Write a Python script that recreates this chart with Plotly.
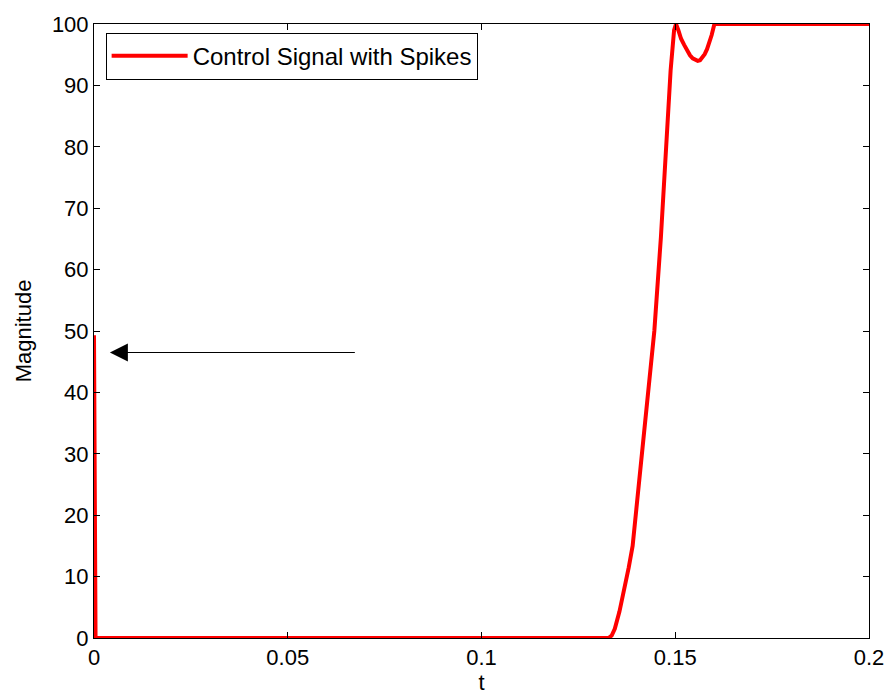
import plotly.graph_objects as go

# Data
t_vals = [0.0, 0.0004, 0.02, 0.06, 0.10, 0.1328, 0.1336, 0.1344, 0.1356, 0.1369, 0.1380,
          0.1390, 0.1403, 0.1416, 0.1429, 0.1446, 0.1463, 0.1475, 0.1488, 0.1497, 0.1502,
          0.1508, 0.1515, 0.1523, 0.1531, 0.1538, 0.1545, 0.1552, 0.1558, 0.1564, 0.1570,
          0.1576, 0.1582, 0.1588, 0.1594, 0.1601, 0.17, 0.18, 0.19, 0.2]
y_vals = [49.3, 0.0, 0.0, 0.0, 0.0, 0.0, 0.4, 1.5, 4.3, 8.0, 11.5,
          15.0, 23.1, 31.2, 39.3, 50.0, 65.3, 78.8, 92.4, 99.0, 100.0,
          99.0, 97.6, 96.6, 95.6, 94.9, 94.4, 94.1, 94.0, 94.1, 94.5,
          95.1, 95.9, 96.9, 98.2, 100.0, 100.0, 100.0, 100.0, 100.0]
series_name = "Control Signal with Spikes"

arrow_tail = (0.0677, 46.5)
arrow_head = (0.0041, 46.5)

x_ticks = [0, 0.05, 0.1, 0.15, 0.2]
x_tick_text = ["0", "0.05", "0.1", "0.15", "0.2"]
y_ticks = [0, 10, 20, 30, 40, 50, 60, 70, 80, 90, 100]

FONT = "Liberation Sans, Arial, sans-serif"
FS = 22

fig = go.Figure()
fig.add_trace(go.Scatter(x=t_vals, y=y_vals, mode="lines", name=series_name,
                         line=dict(color="#ff0000", width=4)))

fig.add_annotation(x=arrow_head[0], y=arrow_head[1], ax=arrow_tail[0], ay=arrow_tail[1],
                   xref="x", yref="y", axref="x", ayref="y", text="", showarrow=True,
                   arrowhead=2, arrowsize=3.0, arrowwidth=1.2, arrowcolor="black")

axis_common = dict(showgrid=False, zeroline=False, showline=True, linecolor="black",
                   linewidth=1, mirror="ticks", ticks="inside", ticklen=6,
                   tickcolor="black", tickfont=dict(family=FONT, size=FS, color="black"))

fig.update_xaxes(range=[0, 0.2], tickvals=x_ticks, ticktext=x_tick_text,
                 title=dict(text="t", font=dict(family=FONT, size=FS, color="black"), standoff=0),
                 **axis_common)
fig.update_yaxes(range=[0, 100], tickvals=y_ticks,
                 title=dict(text="Magnitude", font=dict(family=FONT, size=FS, color="black"), standoff=14),
                 **axis_common)

fig.update_layout(width=896, height=698, margin=dict(l=94, r=19, t=23, b=59),
                  paper_bgcolor="white", plot_bgcolor="white",
                  showlegend=True,
                  legend=dict(x=0.015, y=0.986, xanchor="left", yanchor="top",
                              bgcolor="white", bordercolor="black", borderwidth=1,
                              font=dict(family=FONT, size=24, color="black"),
                              itemwidth=76))

fig.write_html("out.html")
